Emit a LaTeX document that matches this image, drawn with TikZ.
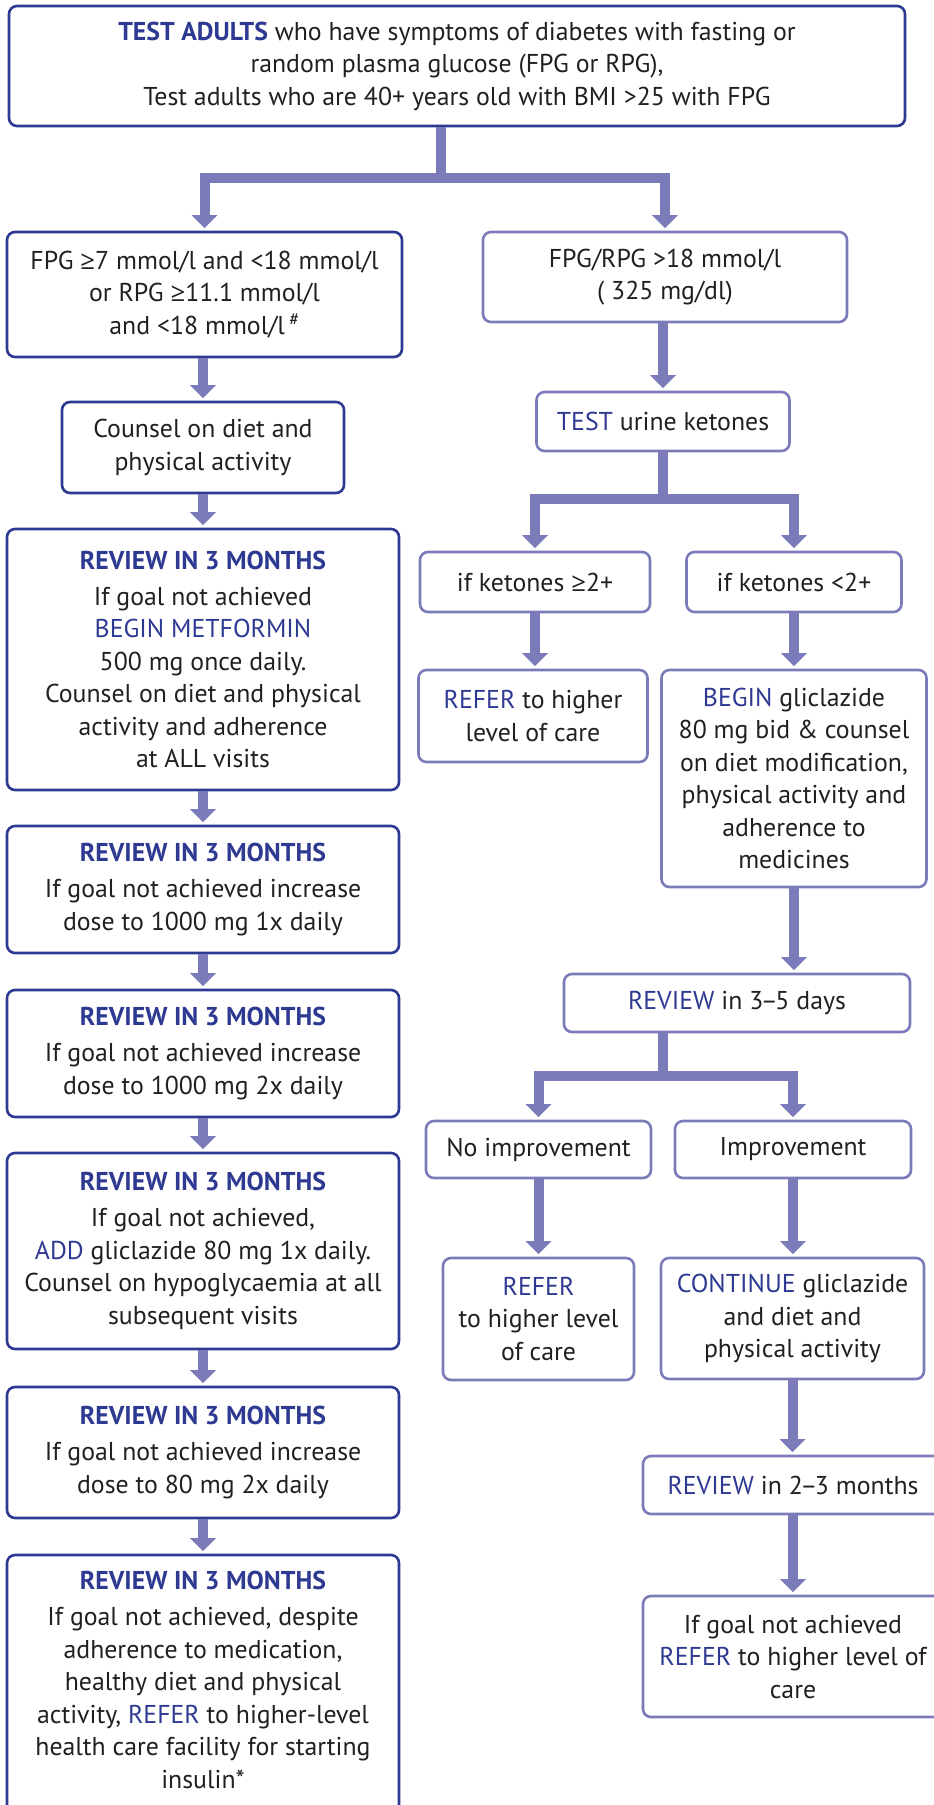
\documentclass[tikz,border=0pt]{standalone}
\usepackage{fontspec}
\setmainfont{PT Sans}
\newfontfamily\symf{Open Sans}
\usetikzlibrary{arrows.meta}
\definecolor{dblue}{RGB}{46,57,145}
\definecolor{lpurp}{RGB}{123,123,186}
\definecolor{txt}{RGB}{35,31,32}
\newcommand{\hlb}[1]{\textcolor{dblue}{#1}}
\newcommand{\hbb}[1]{\textcolor{dblue}{\bfseries #1}}
\newcommand{\geqs}{{\symf ≥}}
\newcommand{\ndsh}{\kern-2.5pt–\kern-2.5pt}
\begin{document}
\begin{tikzpicture}[x=1pt,y=-1pt,
  box/.style={draw=dblue, line width=2.6pt, rounded corners=8pt, align=center, text=txt,
    font=\fontsize{25.8}{32.5}\selectfont, inner sep=0pt},
  rbox/.style={box, draw=lpurp},
  txtnode/.style={align=center, text=txt, font=\fontsize{25.8}{32.5}\selectfont, inner sep=0pt},
  flow/.style={draw=lpurp, line width=10pt, line join=miter,
    -{Triangle[width=25pt,length=13pt]}, shorten >=2.5pt}
]
\useasboundingbox (0,0) rectangle (934,1805);
\clip (0,0) rectangle (934,1805);

% top
\node[box, minimum width=896pt, minimum height=120pt] (top) at (457,66)
 {\hbb{TEST ADULTS} who have symptoms of diabetes with fasting or\\
  random plasma glucose (FPG or RPG),\\
  Test adults who are 40+ years old with BMI >25 with FPG};

% left column
\node[box, minimum width=395pt, minimum height=125pt] (fpg) at (204.5,294.5)
 {FPG \geqs7 mmol/l and <18 mmol/l\\ or RPG \geqs11.1 mmol/l\\ and <18 mmol/l\,\textsuperscript{\#}};
\node[box, minimum width=282pt, minimum height=91pt] (counsel) at (203,447.5)
 {Counsel on diet and\\ physical activity};
\node[box, minimum width=392pt, minimum height=261pt] (r1) at (203,659.5)
 {\hbb{REVIEW IN 3 MONTHS}\\[3.5pt] If goal not achieved\\ \hlb{BEGIN METFORMIN}\\ 500 mg once daily.\\
  Counsel on diet and physical\\ activity and adherence\\ at ALL visits};
\node[box, minimum width=392pt, minimum height=127pt] (r2) at (203,889.5)
 {\hbb{REVIEW IN 3 MONTHS}\\[3.5pt] If goal not achieved increase\\ dose to 1000 mg 1x daily};
\node[box, minimum width=392pt, minimum height=127pt] (r3) at (203,1053.5)
 {\hbb{REVIEW IN 3 MONTHS}\\[3.5pt] If goal not achieved increase\\ dose to 1000 mg 2x daily};
\node[box, minimum width=392pt, minimum height=196pt] (r4) at (203,1251)
 {\hbb{REVIEW IN 3 MONTHS}\\[3.5pt] If goal not achieved,\\ \hlb{ADD} gliclazide 80 mg 1x daily.\\
  Counsel on hypoglycaemia at all\\ subsequent visits};
\node[box, minimum width=392pt, minimum height=131pt] (r5) at (203,1452.5)
 {\hbb{REVIEW IN 3 MONTHS}\\[3.5pt] If goal not achieved increase\\ dose to 80 mg 2x daily};
\node[box, minimum width=392pt, minimum height=280pt] (r6) at (203,1695) {};
\node[txtnode, anchor=north] (r6t) at (203,1571)
 {\hbb{REVIEW IN 3 MONTHS}\\[3.5pt] If goal not achieved, despite\\ adherence to medication,\\
  healthy diet and physical\\ activity, \hlb{REFER} to higher-level\\ health care facility for starting\\ insulin*};

% right column
\node[rbox, minimum width=364pt, minimum height=90pt] (fpgr) at (665,277)
 {FPG/RPG >18 mmol/l\\ ( 325 mg/dl)};
\node[rbox, minimum width=253pt, minimum height=59pt] (test) at (663,421.5)
 {\hlb{TEST} urine ketones};
\node[rbox, minimum width=230pt, minimum height=60pt] (k1) at (535,582)
 {if ketones \geqs2+};
\node[rbox, minimum width=215pt, minimum height=60pt] (k2) at (794,582)
 {if ketones <2+};
\node[rbox, minimum width=229pt, minimum height=92pt] (ref1) at (533,716)
 {\hlb{REFER} to higher\\ level of care};
\node[rbox, minimum width=265pt, minimum height=217pt] (begin) at (794,778.5)
 {\hlb{BEGIN} gliclazide\\ 80 mg bid \& counsel\\ on diet modification,\\ physical activity and\\ adherence to\\ medicines};
\node[rbox, minimum width=346pt, minimum height=58pt] (rev35) at (737,1003)
 {\hlb{REVIEW} in 3\ndsh5 days};
\node[rbox, minimum width=225pt, minimum height=57pt] (noimp) at (538.5,1149.5)
 {No improvement};
\node[rbox, minimum width=236pt, minimum height=57pt] (imp) at (793,1149.5)
 {Improvement};
\node[rbox, minimum width=191pt, minimum height=122pt] (ref2) at (538.5,1319)
 {\hlb{REFER}\\ to higher level\\ of care};
\node[rbox, minimum width=263pt, minimum height=121pt] (cont) at (792.5,1318.5)
 {\hlb{CONTINUE} gliclazide\\ and diet and\\ physical activity};
\node[rbox, minimum width=300pt, minimum height=58pt] (rev23) at (793,1485)
 {\hlb{REVIEW} in 2\ndsh3 months};
\node[rbox, minimum width=300pt, minimum height=121pt] (final) at (793,1656.5)
 {If goal not achieved\\ \hlb{REFER} to higher level of\\ care};

% connectors
\draw[flow] ([xshift=-16pt]top.south) -- ++(0,51) -| (fpg.north);
\draw[flow] ([xshift=-16pt]top.south) -- ++(0,51) -| (fpgr.north);
\draw[flow] (fpg.south -| counsel.north) -- (counsel.north);
\draw[flow] (counsel.south) -- (r1.north);
\draw[flow] (r1.south) -- (r2.north);
\draw[flow] (r2.south) -- (r3.north);
\draw[flow] (r3.south) -- (r4.north);
\draw[flow] (r4.south) -- (r5.north);
\draw[flow] (r5.south) -- (r6.north);

\draw[flow] (fpgr.south -| test.north) -- (test.north);
\draw[flow] (test.south) -- ++(0,47) -| (k1.north);
\draw[flow] (test.south) -- ++(0,47) -| (k2.north);
\draw[flow] (k1.south) -- (k1.south |- ref1.north);
\draw[flow] (k2.south) -- (begin.north);
\draw[flow] (begin.south) -- (begin.south |- rev35.north);
\draw[flow] ([xshift=-74pt]rev35.south) -- ++(0,43) -| (noimp.north);
\draw[flow] ([xshift=-74pt]rev35.south) -- ++(0,43) -| (imp.north);
\draw[flow] (noimp.south) -- (noimp.south |- ref2.north);
\draw[flow] (imp.south) -- (imp.south |- cont.north);
\draw[flow] (cont.south) -- (cont.south |- rev23.north);
\draw[flow] (rev23.south) -- (final.north);
\end{tikzpicture}
\end{document}
